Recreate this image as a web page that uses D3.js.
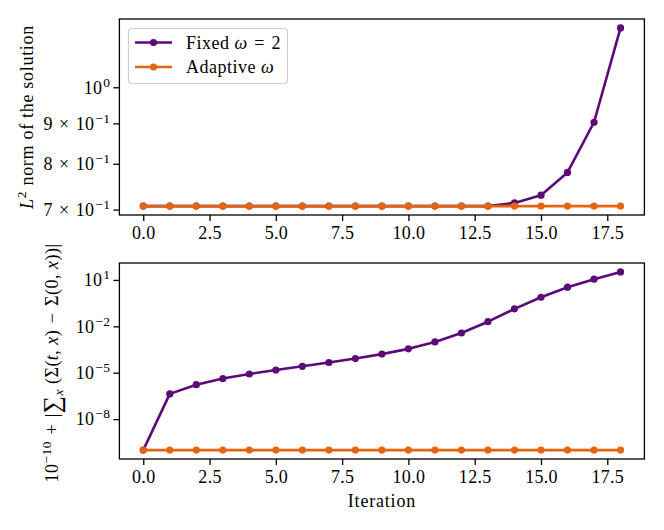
<!DOCTYPE html>
<html>
<head>
<meta charset="utf-8">
<script src="https://cdn.jsdelivr.net/npm/d3@7"></script>
<style>
  body { margin: 0; background: #fff; }
  svg { font-family: "Liberation Serif", "DejaVu Serif", serif; }
</style>
</head>
<body>
<svg id="chart" width="664" height="530"></svg>
<script>
// Data
const iterations = [0, 1, 2, 3, 4, 5, 6, 7, 8, 9, 10, 11, 12, 13, 14, 15, 16, 17, 18];
const fixedNorm = [0.7071, 0.7071, 0.7071, 0.7071, 0.7071, 0.7071, 0.7071, 0.7071, 0.7071, 0.7071,
                   0.7071, 0.7071, 0.7071, 0.7071, 0.7137, 0.7300, 0.780, 0.903, 1.189];
const adaptiveNorm = [0.7071, 0.7071, 0.7071, 0.7071, 0.7071, 0.7071, 0.7071, 0.7071, 0.7071, 0.7071,
                      0.7071, 0.7071, 0.7071, 0.7071, 0.7071, 0.7071, 0.7071, 0.7071, 0.7071];
const fixedDiff = [1e-10, 4.3e-7, 1.7e-6, 4.2e-6, 8.3e-6, 1.5e-5, 2.6e-5, 4.6e-5, 8.3e-5, 1.6e-4,
                   3.5e-4, 9.8e-4, 3.7e-3, 2.0e-2, 0.135, 0.76, 3.4, 11.2, 33];
const adaptiveDiff = [1e-10, 1e-10, 1e-10, 1e-10, 1e-10, 1e-10, 1e-10, 1e-10, 1e-10, 1e-10,
                      1e-10, 1e-10, 1e-10, 1e-10, 1e-10, 1e-10, 1e-10, 1e-10, 1e-10];
const xTicks = [0, 2.5, 5, 7.5, 10, 12.5, 15, 17.5];
// y ticks: [value, mantissa, exponent]
const normTicks = [[0.7, "7", "−1"], [0.8, "8", "−1"], [0.9, "9", "−1"], [1, "", "0"]];
const diffTicks = [[10, "", "1"], [1e-2, "", "−2"], [1e-5, "", "−5"], [1e-8, "", "−8"]];

const purple = "#5c0a78", orange = "#e4640f";
const fs = 18, sup = 13.5;

const svg = d3.select("#chart");
const left = 119.4, right = 644.4;

// x scale with matplotlib-style 5% margins
const xPad = (d3.max(iterations) - d3.min(iterations)) * 0.05;
const x = d3.scaleLinear()
	.domain([d3.min(iterations) - xPad, d3.max(iterations) + xPad])
	.range([left, right]);

// log scale with 5% margin in log space
let logScale = (vals, top, bottom) => {
	let lo = Math.log10(d3.min(vals)), hi = Math.log10(d3.max(vals));
	let pad = (hi - lo) * 0.05;
	return d3.scaleLog().domain([10 ** (lo - pad), 10 ** (hi + pad)]).range([bottom, top]);
};

// Draw one panel
function panel(top, bottom, yVals, ticks, series) {
	const y = logScale(yVals, top, bottom);
	const g = svg.append("g");

	// x axis
	const xa = g.append("g")
		.attr("transform", "translate(0," + bottom + ")")
		.call(d3.axisBottom(x).tickValues(xTicks).tickSize(6).tickPadding(5)
			.tickFormat(d3.format(".1f")));
	xa.selectAll("text").attr("font-size", fs).attr("fill", "#000")
		.attr("font-family", "Liberation Serif").attr("letter-spacing", 0.3);

	// y axis
	const ya = g.append("g")
		.attr("transform", "translate(" + left + ",0)")
		.call(d3.axisLeft(y).tickValues(ticks.map(t => t[0])).tickSize(6).tickFormat(""));
	ya.selectAll(".tick").each(function (d, i) {
		const t = ticks[i];
		const txt = d3.select(this).append("text")
			.attr("x", -9).attr("dy", "0.32em")
			.attr("text-anchor", "end").attr("fill", "#000")
			.attr("font-size", fs).attr("font-family", "Liberation Serif")
			.attr("letter-spacing", 0.3);
		txt.append("tspan").text((t[1] ? t[1] + "\u2004×\u2004" : "") + "10");
		txt.append("tspan").attr("dx", 1).attr("dy", -7).attr("font-size", sup).text(t[2]);
	});
	g.selectAll(".domain").remove();
	g.selectAll(".tick line").attr("stroke", "#000").attr("stroke-width", 1.3);

	// lines and markers
	series.forEach(s => {
		const line = d3.line().x((d, i) => x(iterations[i])).y(d => y(d));
		g.append("path").datum(s.values)
			.attr("fill", "none").attr("stroke", s.color)
			.attr("stroke-width", 2.6).attr("stroke-linejoin", "round")
			.attr("d", line);
		g.selectAll(null).data(s.values).enter().append("circle")
			.attr("cx", (d, i) => x(iterations[i]))
			.attr("cy", d => y(d))
			.attr("r", 3.6)
			.attr("fill", s.color);
	});

	// frame
	g.append("rect")
		.attr("x", left).attr("y", top)
		.attr("width", right - left).attr("height", bottom - top)
		.attr("fill", "none").attr("stroke", "#000").attr("stroke-width", 1.3);
	return g;
}

// adaptive drawn last so it sits on top
panel(19, 215, fixedNorm.concat(adaptiveNorm), normTicks, [
	{ values: fixedNorm, color: purple },
	{ values: adaptiveNorm, color: orange }
]);

panel(263, 459, fixedDiff.concat(adaptiveDiff), diffTicks, [
	{ values: fixedDiff, color: purple },
	{ values: adaptiveDiff, color: orange }
]);

// legend
const leg = svg.append("g");
leg.append("rect")
	.attr("x", 128.5).attr("y", 28.5).attr("width", 159).attr("height", 55)
	.attr("rx", 3).attr("fill", "#fff").attr("fill-opacity", 0.8)
	.attr("stroke", "#d0d0d0").attr("stroke-width", 1.2);
const legendItems = [
	{ color: purple, parts: [["Fixed ", false], ["ω", true], ["\u2004=\u20042", false]] },
	{ color: orange, parts: [["Adaptive ", false], ["ω", true]] }
];
legendItems.forEach((it, i) => {
	const yy = 42.5 + i * 24.5;
	leg.append("line").attr("x1", 135).attr("x2", 172).attr("y1", yy).attr("y2", yy)
		.attr("stroke", it.color).attr("stroke-width", 2.6);
	leg.append("circle").attr("cx", 153.5).attr("cy", yy).attr("r", 3.6).attr("fill", it.color);
	const t = leg.append("text").attr("x", 186).attr("y", yy).attr("dy", "0.35em")
		.attr("font-size", fs).attr("letter-spacing", 0.5);
	it.parts.forEach(p => t.append("tspan").attr("font-style", p[1] ? "italic" : "normal").text(p[0]));
});

// axis labels
const yl1 = svg.append("text")
	.attr("transform", "translate(33,117) rotate(-90)")
	.attr("text-anchor", "middle").attr("font-size", fs).attr("letter-spacing", 0.7);
yl1.append("tspan").attr("font-style", "italic").text("L");
yl1.append("tspan").attr("dy", -7).attr("font-size", sup).text("2");
yl1.append("tspan").attr("dy", 7).text(" norm of the solution");

const yl2 = svg.append("text")
	.attr("transform", "translate(58,363) rotate(-90)")
	.attr("text-anchor", "middle").attr("font-size", fs).attr("letter-spacing", 0.5);
yl2.append("tspan").text("10");
yl2.append("tspan").attr("dy", -7).attr("font-size", sup).text("−10");
yl2.append("tspan").attr("dy", 7).text("\u2004+\u2004|");
yl2.append("tspan").attr("font-size", 24).attr("dy", 2).text("∑");
yl2.append("tspan").attr("font-size", sup).attr("font-style", "italic").attr("dy", 3).text("x");
yl2.append("tspan").attr("dy", -5).text(" (Σ(");
yl2.append("tspan").attr("font-style", "italic").text("t");
yl2.append("tspan").text(", ");
yl2.append("tspan").attr("font-style", "italic").text("x");
yl2.append("tspan").text(")\u2004−\u2004Σ(0, ");
yl2.append("tspan").attr("font-style", "italic").text("x");
yl2.append("tspan").text("))|");

svg.append("text")
	.attr("x", (left + right) / 2).attr("y", 507)
	.attr("text-anchor", "middle").attr("font-size", fs).attr("letter-spacing", 0.8)
	.text("Iteration");
</script>
</body>
</html>
